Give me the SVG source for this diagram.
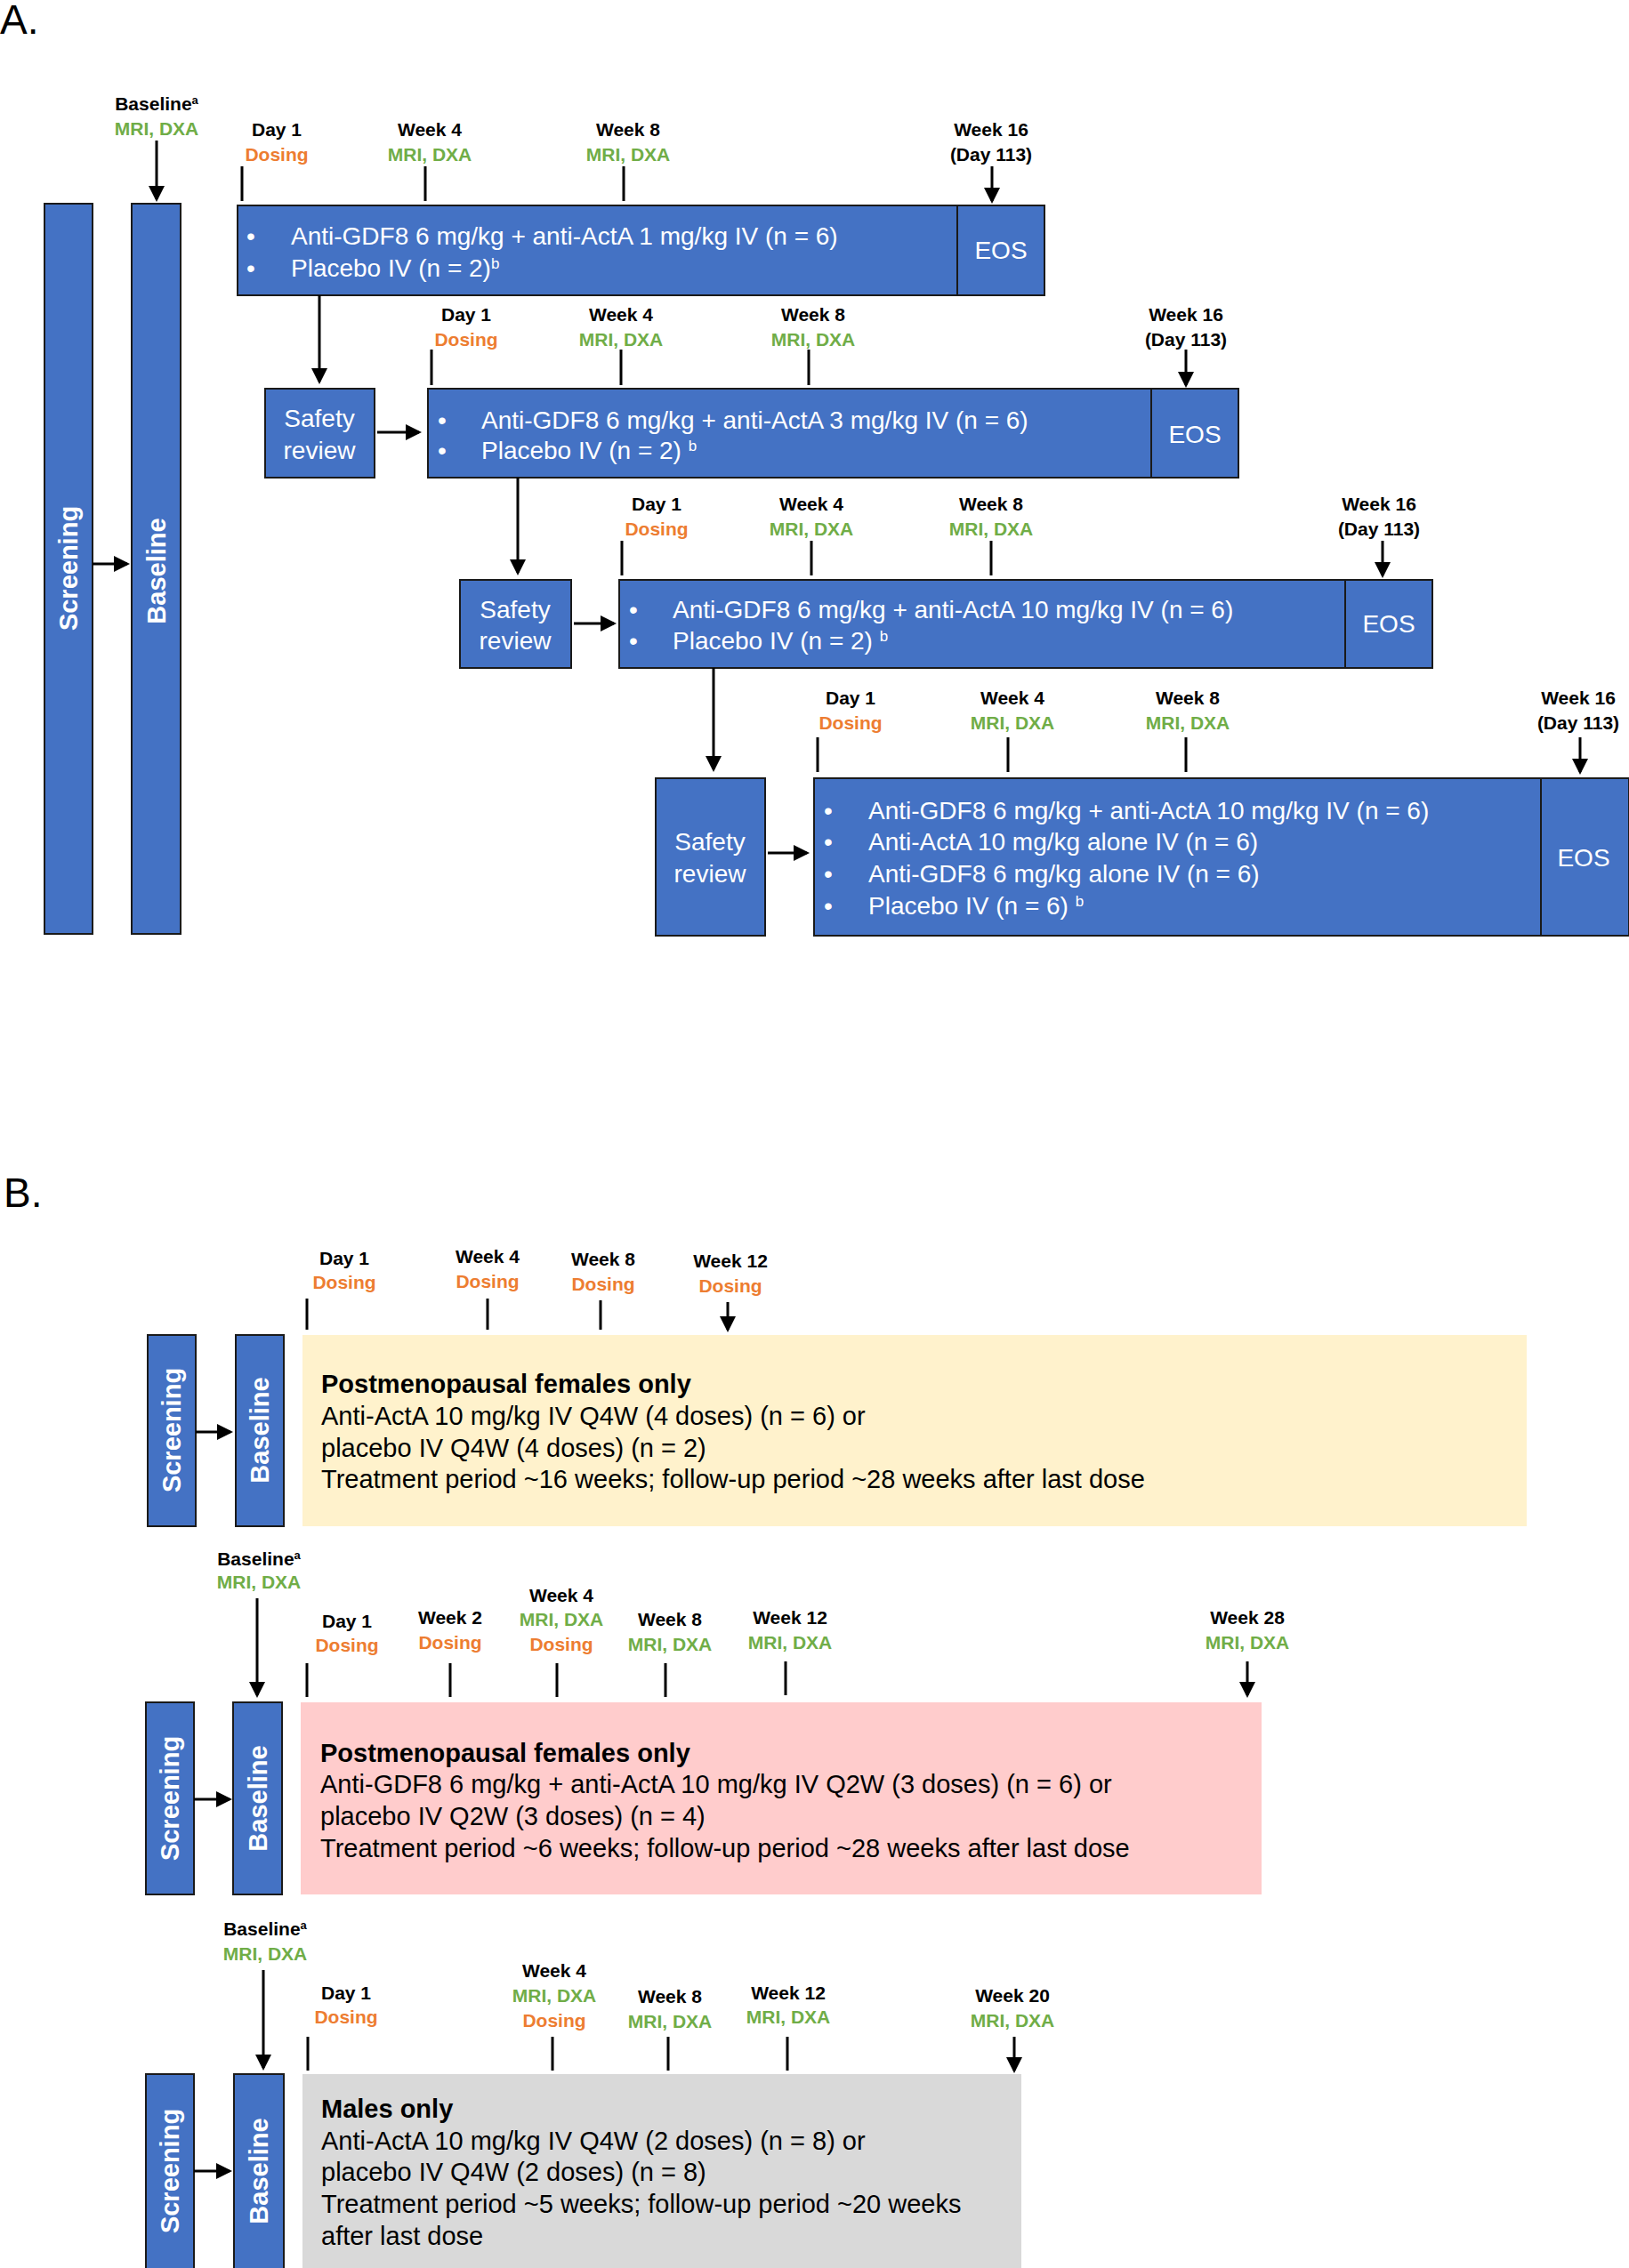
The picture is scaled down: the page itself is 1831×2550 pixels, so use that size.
<svg xmlns="http://www.w3.org/2000/svg" width="1831" height="2550" viewBox="0 0 1831 2550">
<style>
.bar{fill:#4472C4;stroke:#1a1a1a;stroke-width:2}
.vt{font:bold 29px "Liberation Sans",Arial,sans-serif;fill:#fff;text-anchor:middle}
.bt{font:28px "Liberation Sans",Arial,sans-serif;fill:#fff}
.sr{font:28px "Liberation Sans",Arial,sans-serif;fill:#fff;text-anchor:middle}
.lb{font:bold 21px "Liberation Sans",Arial,sans-serif;text-anchor:middle;fill:#000}
.g{fill:#70AD47}.o{fill:#ED7D31}
.pt{font:29px "Liberation Sans",Arial,sans-serif;fill:#000}
.pb{font-weight:bold}
.ar{stroke:#000;stroke-width:3;fill:none;marker-end:url(#ah)}
.ttl{font:46px "Liberation Sans",Arial,sans-serif;fill:#000}
</style>
<defs><marker id="ah" markerWidth="6" markerHeight="6" refX="5" refY="3" orient="auto" markerUnits="strokeWidth"><path d="M0,0L6,3L0,6z" fill="#000"/></marker></defs>
<rect width="1831" height="2550" fill="#fff"/>
<text class="ttl" x="0" y="38">A.</text>
<text class="ttl" x="4" y="1357">B.</text>

<g id="A-screening"><rect class="bar" x="50" y="229" width="54" height="821"/><text class="vt" transform="translate(87,639) rotate(-90)">Screening</text></g>
<g id="A-baseline"><rect class="bar" x="148" y="229" width="55" height="821"/><text class="vt" transform="translate(186,642) rotate(-90)">Baseline</text></g>
<g id="A-bl-label"><text class="lb" x="176" y="124">Baseline<tspan font-size="13" baseline-shift="super">a</tspan></text><text class="lb g" x="176" y="152">MRI, DXA</text></g>

<g id="A-box1"><rect class="bar" x="267" y="231" width="809" height="101"/><rect class="bar" x="1076" y="231" width="98" height="101"/>
<text class="bt" x="277" y="275">•</text><text class="bt" x="327" y="275">Anti-GDF8 6 mg/kg + anti-ActA 1 mg/kg IV (n = 6)</text>
<text class="bt" x="277" y="311">•</text><text class="bt" x="327" y="311">Placebo IV (n = 2)<tspan font-size="17" baseline-shift="super">b</tspan></text>
<text class="sr" x="1125" y="291">EOS</text></g>
<g id="A-row1-labels"><text class="lb" x="311" y="153">Day 1</text><text class="lb o" x="311" y="181">Dosing</text>
<text class="lb" x="483" y="153">Week 4</text><text class="lb g" x="483" y="181">MRI, DXA</text>
<text class="lb" x="706" y="153">Week 8</text><text class="lb g" x="706" y="181">MRI, DXA</text>
<text class="lb" x="1114" y="153">Week 16</text><text class="lb" x="1114" y="181">(Day 113)</text></g>

<g id="A-sr2"><rect class="bar" x="298" y="437" width="123" height="100"/><text class="sr" x="359" y="480">Safety</text><text class="sr" x="359" y="516">review</text></g>
<g id="A-box2"><rect class="bar" x="481" y="437" width="813" height="100"/><rect class="bar" x="1294" y="437" width="98" height="100"/>
<text class="bt" x="492" y="482">•</text><text class="bt" x="541" y="482">Anti-GDF8 6 mg/kg + anti-ActA 3 mg/kg IV (n = 6)</text>
<text class="bt" x="492" y="516">•</text><text class="bt" x="541" y="516">Placebo IV (n = 2) <tspan font-size="17" baseline-shift="super">b</tspan></text>
<text class="sr" x="1343" y="498">EOS</text></g>
<g id="A-row2-labels"><text class="lb" x="524" y="361">Day 1</text><text class="lb o" x="524" y="389">Dosing</text>
<text class="lb" x="698" y="361">Week 4</text><text class="lb g" x="698" y="389">MRI, DXA</text>
<text class="lb" x="914" y="361">Week 8</text><text class="lb g" x="914" y="389">MRI, DXA</text>
<text class="lb" x="1333" y="361">Week 16</text><text class="lb" x="1333" y="389">(Day 113)</text></g>

<g id="A-sr3"><rect class="bar" x="517" y="652" width="125" height="99"/><text class="sr" x="579" y="695">Safety</text><text class="sr" x="579" y="730">review</text></g>
<g id="A-box3"><rect class="bar" x="696" y="652" width="816" height="99"/><rect class="bar" x="1512" y="652" width="98" height="99"/>
<text class="bt" x="707" y="695">•</text><text class="bt" x="756" y="695">Anti-GDF8 6 mg/kg + anti-ActA 10 mg/kg IV (n = 6)</text>
<text class="bt" x="707" y="730">•</text><text class="bt" x="756" y="730">Placebo IV (n = 2) <tspan font-size="17" baseline-shift="super">b</tspan></text>
<text class="sr" x="1561" y="711">EOS</text></g>
<g id="A-row3-labels"><text class="lb" x="738" y="574">Day 1</text><text class="lb o" x="738" y="602">Dosing</text>
<text class="lb" x="912" y="574">Week 4</text><text class="lb g" x="912" y="602">MRI, DXA</text>
<text class="lb" x="1114" y="574">Week 8</text><text class="lb g" x="1114" y="602">MRI, DXA</text>
<text class="lb" x="1550" y="574">Week 16</text><text class="lb" x="1550" y="602">(Day 113)</text></g>

<g id="A-sr4"><rect class="bar" x="737" y="875" width="123" height="177"/><text class="sr" x="798" y="956">Safety</text><text class="sr" x="798" y="992">review</text></g>
<g id="A-box4"><rect class="bar" x="915" y="875" width="817" height="177"/><rect class="bar" x="1732" y="875" width="99" height="177"/>
<text class="bt" x="926" y="921">•</text><text class="bt" x="976" y="921">Anti-GDF8 6 mg/kg + anti-ActA 10 mg/kg IV (n = 6)</text>
<text class="bt" x="926" y="956">•</text><text class="bt" x="976" y="956">Anti-ActA 10 mg/kg alone IV (n = 6)</text>
<text class="bt" x="926" y="992">•</text><text class="bt" x="976" y="992">Anti-GDF8 6 mg/kg alone IV (n = 6)</text>
<text class="bt" x="926" y="1028">•</text><text class="bt" x="976" y="1028">Placebo IV (n = 6) <tspan font-size="17" baseline-shift="super">b</tspan></text>
<text class="sr" x="1780" y="974">EOS</text></g>
<g id="A-row4-labels"><text class="lb" x="956" y="792">Day 1</text><text class="lb o" x="956" y="820">Dosing</text>
<text class="lb" x="1138" y="792">Week 4</text><text class="lb g" x="1138" y="820">MRI, DXA</text>
<text class="lb" x="1335" y="792">Week 8</text><text class="lb g" x="1335" y="820">MRI, DXA</text>
<text class="lb" x="1774" y="792">Week 16</text><text class="lb" x="1774" y="820">(Day 113)</text></g>

<!-- Panel B -->
<g id="B1-screening"><rect class="bar" x="166" y="1501" width="54" height="215"/><text class="vt" transform="translate(203,1608) rotate(-90)">Screening</text></g>
<g id="B1-baseline"><rect class="bar" x="265" y="1501" width="54" height="215"/><text class="vt" transform="translate(302,1608) rotate(-90)">Baseline</text></g>
<g id="B1-box"><rect x="340" y="1501" width="1376" height="215" fill="#FFF2CC"/>
<text class="pt pb" x="361" y="1566">Postmenopausal females only</text>
<text class="pt" x="361" y="1602">Anti-ActA 10 mg/kg IV Q4W (4 doses) (n = 6) or</text>
<text class="pt" x="361" y="1638">placebo IV Q4W (4 doses) (n = 2)</text>
<text class="pt" x="361" y="1673">Treatment period ~16 weeks; follow-up period ~28 weeks after last dose</text></g>
<g id="B1-labels"><text class="lb" x="387" y="1422">Day 1</text><text class="lb o" x="387" y="1449">Dosing</text>
<text class="lb" x="548" y="1420">Week 4</text><text class="lb o" x="548" y="1448">Dosing</text>
<text class="lb" x="678" y="1423">Week 8</text><text class="lb o" x="678" y="1451">Dosing</text>
<text class="lb" x="821" y="1425">Week 12</text><text class="lb o" x="821" y="1453">Dosing</text></g>

<g id="B2-screening"><rect class="bar" x="164" y="1914" width="54" height="216"/><text class="vt" transform="translate(201,2022) rotate(-90)">Screening</text></g>
<g id="B2-baseline"><rect class="bar" x="262" y="1914" width="55" height="216"/><text class="vt" transform="translate(300,2022) rotate(-90)">Baseline</text></g>
<g id="B2-box"><rect x="338" y="1914" width="1080" height="216" fill="#FFCCCC"/>
<text class="pt pb" x="360" y="1981">Postmenopausal females only</text>
<text class="pt" x="360" y="2016">Anti-GDF8 6 mg/kg + anti-ActA 10 mg/kg IV Q2W (3 doses) (n = 6) or</text>
<text class="pt" x="360" y="2052">placebo IV Q2W (3 doses) (n = 4)</text>
<text class="pt" x="360" y="2088">Treatment period ~6 weeks; follow-up period ~28 weeks after last dose</text></g>
<g id="B2-labels"><text class="lb" x="291" y="1760">Baseline<tspan font-size="13" baseline-shift="super">a</tspan></text><text class="lb g" x="291" y="1786">MRI, DXA</text>
<text class="lb" x="390" y="1830">Day 1</text><text class="lb o" x="390" y="1857">Dosing</text>
<text class="lb" x="506" y="1826">Week 2</text><text class="lb o" x="506" y="1854">Dosing</text>
<text class="lb" x="631" y="1801">Week 4</text><text class="lb g" x="631" y="1828">MRI, DXA</text><text class="lb o" x="631" y="1856">Dosing</text>
<text class="lb" x="753" y="1828">Week 8</text><text class="lb g" x="753" y="1856">MRI, DXA</text>
<text class="lb" x="888" y="1826">Week 12</text><text class="lb g" x="888" y="1854">MRI, DXA</text>
<text class="lb" x="1402" y="1826">Week 28</text><text class="lb g" x="1402" y="1854">MRI, DXA</text></g>

<g id="B3-screening"><rect class="bar" x="164" y="2332" width="54" height="222"/><text class="vt" transform="translate(201,2441) rotate(-90)">Screening</text></g>
<g id="B3-baseline"><rect class="bar" x="263" y="2332" width="56" height="222"/><text class="vt" transform="translate(301,2441) rotate(-90)">Baseline</text></g>
<g id="B3-box"><rect x="340" y="2332" width="808" height="222" fill="#D9D9D9"/>
<text class="pt pb" x="361" y="2381">Males only</text>
<text class="pt" x="361" y="2417">Anti-ActA 10 mg/kg IV Q4W (2 doses) (n = 8) or</text>
<text class="pt" x="361" y="2452">placebo IV Q4W (2 doses) (n = 8)</text>
<text class="pt" x="361" y="2488">Treatment period ~5 weeks; follow-up period ~20 weeks</text>
<text class="pt" x="361" y="2524">after last dose</text></g>
<g id="B3-labels"><text class="lb" x="298" y="2176">Baseline<tspan font-size="13" baseline-shift="super">a</tspan></text><text class="lb g" x="298" y="2204">MRI, DXA</text>
<text class="lb" x="389" y="2248">Day 1</text><text class="lb o" x="389" y="2275">Dosing</text>
<text class="lb" x="623" y="2223">Week 4</text><text class="lb g" x="623" y="2251">MRI, DXA</text><text class="lb o" x="623" y="2279">Dosing</text>
<text class="lb" x="753" y="2252">Week 8</text><text class="lb g" x="753" y="2280">MRI, DXA</text>
<text class="lb" x="886" y="2248">Week 12</text><text class="lb g" x="886" y="2275">MRI, DXA</text>
<text class="lb" x="1138" y="2251">Week 20</text><text class="lb g" x="1138" y="2279">MRI, DXA</text></g>

<g id="connectors">
<path class="ar" d="M104,634H143"/>
<path class="ar" d="M176,158V224"/>
<path class="ar" d="M272,187V226M478,187V226M701,187V226M1115,187V226"/>
<path class="ar" d="M359,332V429"/>
<path class="ar" d="M424,486H471"/>
<path class="ar" d="M485,393V433M698,393V433M909,393V433M1333,393V433"/>
<path class="ar" d="M582,537V644"/>
<path class="ar" d="M645,701H690"/>
<path class="ar" d="M699,608V647M912,608V647M1114,608V647M1554,608V647"/>
<path class="ar" d="M802,751V865"/>
<path class="ar" d="M863,959H907"/>
<path class="ar" d="M919,829V868M1133,829V868M1333,829V868M1776,829V868"/>
<path class="ar" d="M220,1610H259"/>
<path class="ar" d="M345,1460V1495M548,1460V1495M675,1462V1495M818,1464V1495"/>
<path class="ar" d="M289,1797V1906"/>
<path class="ar" d="M218,2023H258"/>
<path class="ar" d="M345,1870V1908M506,1870V1908M626,1870V1908M748,1870V1908M883,1868V1906M1402,1868V1906"/>
<path class="ar" d="M296,2215V2325"/>
<path class="ar" d="M218,2441H258"/>
<path class="ar" d="M346,2290V2328M621,2290V2328M751,2290V2328M885,2290V2328M1140,2290V2328"/>
</g>
</svg>
